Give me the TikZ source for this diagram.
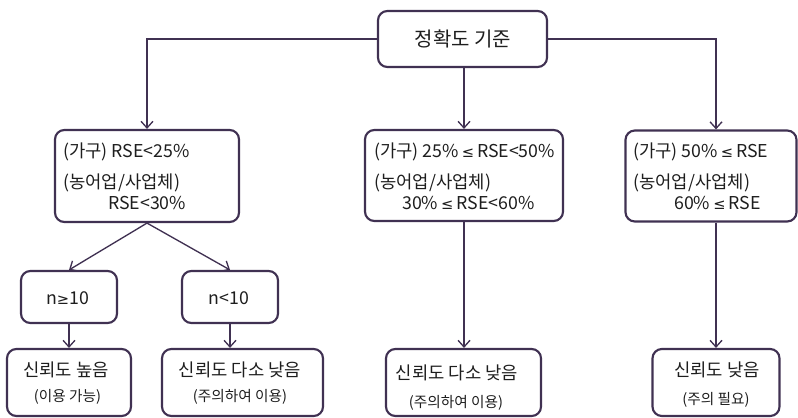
\documentclass[tikz,border=0pt]{standalone}
\usepackage{fontspec}
\setmainfont{Noto Sans CJK KR}
\newfontfamily\symf{DejaVu Sans}
\newcommand{\mle}{{\symf\fontsize{11}{12}\selectfont ≤}}
\newcommand{\mge}{{\symf\fontsize{11}{12}\selectfont ≥}}
\usetikzlibrary{arrows.meta}
\definecolor{edgec}{RGB}{64,49,82}
\definecolor{txtc}{RGB}{30,30,30}
\tikzset{
  box/.style={draw=edgec,line width=1.6pt,rounded corners=7pt,rectangle,inner sep=0pt},
  arr/.style={draw=edgec,line width=1pt,-{Straight Barb[length=5pt,width=9pt,line width=1pt]}},
  txt/.style={text=txtc,inner sep=0pt,font=\fontsize{13.3}{15}\selectfont},
  big/.style={text=txtc,inner sep=0pt,font=\fontsize{15}{17}\selectfont},
  title/.style={text=txtc,inner sep=0pt,font=\fontsize{13.3}{15}\selectfont},
  sub/.style={text=txtc,inner sep=0pt,font=\fontsize{11}{12}\selectfont},
}
\begin{document}
\begin{tikzpicture}[x=0.75pt,y=-0.75pt]
\useasboundingbox (0,0) rectangle (798,417);
% boxes
\node[box,minimum width=126.75pt,minimum height=42pt] (top) at (462.5,39) {};
\node[box,minimum width=138pt,minimum height=69pt] (L) at (147,176) {};
\node[box,minimum width=148.5pt,minimum height=68.25pt] (M) at (464,175.5) {};
\node[box,minimum width=128.25pt,minimum height=68.25pt] (R) at (711,176) {};
\node[box,minimum width=72pt,minimum height=39pt] (n1) at (69,297) {};
\node[box,minimum width=72pt,minimum height=39pt] (n2) at (230,297) {};
\node[box,minimum width=93pt,minimum height=50.25pt] (B1) at (69,382.5) {};
\node[box,minimum width=120.75pt,minimum height=50.25pt] (B2) at (242.5,382.5) {};
\node[box,minimum width=116.25pt,minimum height=50.25pt] (B3) at (463.5,382.5) {};
\node[box,minimum width=95.25pt,minimum height=50.25pt] (B4) at (716,382.5) {};
% texts
\node[big] (ttop) at (463,39) {정확도 기준};
\node[txt,anchor=west] (l1) at (63,152) {(가구) RSE<25\%};
\node[txt,anchor=west] (l2) at (63,183) {(농어업/사업체)};
\node[txt,anchor=west] (l3) at (108,203) {RSE<30\%};
\node[txt,anchor=west] (m1) at (374,152) {(가구) 25\%\,\mle\,RSE<50\%};
\node[txt,anchor=west] (m2) at (374,183) {(농어업/사업체)};
\node[txt,anchor=west] (m3) at (402,203) {30\%\,\mle\,RSE<60\%};
\node[txt,anchor=west] (r1) at (633,152) {(가구) 50\%\,\mle\,RSE};
\node[txt,anchor=west] (r2) at (633,183) {(농어업/사업체)};
\node[txt,anchor=west] (r3) at (674,203) {60\%\,\mle\,RSE};
\node[txt] (tn1) at (67.5,298) {n\mge10};
\node[txt] (tn2) at (229,298) {n<10};
\node[title] (b1a) at (66,370) {신뢰도 높음};
\node[sub] (b1b) at (67.5,397) {(이용 가능)};
\node[title] (b2a) at (240,370) {신뢰도 다소 낮음};
\node[sub] (b2b) at (240,397) {(주의하여 이용)};
\node[title] (b3a) at (457,373) {신뢰도 다소 낮음};
\node[sub] (b3b) at (456,403) {(주의하여 이용)};
\node[title] (b4a) at (717,370) {신뢰도 낮음};
\node[sub] (b4b) at (716,400) {(주의 필요)};
% connectors
\draw[arr] (top.west) -| (L.north);
\draw[arr] (top.east) -| ([xshift=3.75pt]R.north);
\draw[arr] (top.south -| M.north) -- (M.north);
\draw[arr] (L.south) -- (n1.north);
\draw[arr] (L.south) -- (n2.north);
\draw[arr] (n1.south) -- (B1.north);
\draw[arr] (n2.south) -- (n2.south |- B2.north);
\draw[arr] (M.south) -- (M.south |- B3.north);
\draw[arr] (B4.north |- R.south) -- (B4.north);
\end{tikzpicture}
\end{document}
